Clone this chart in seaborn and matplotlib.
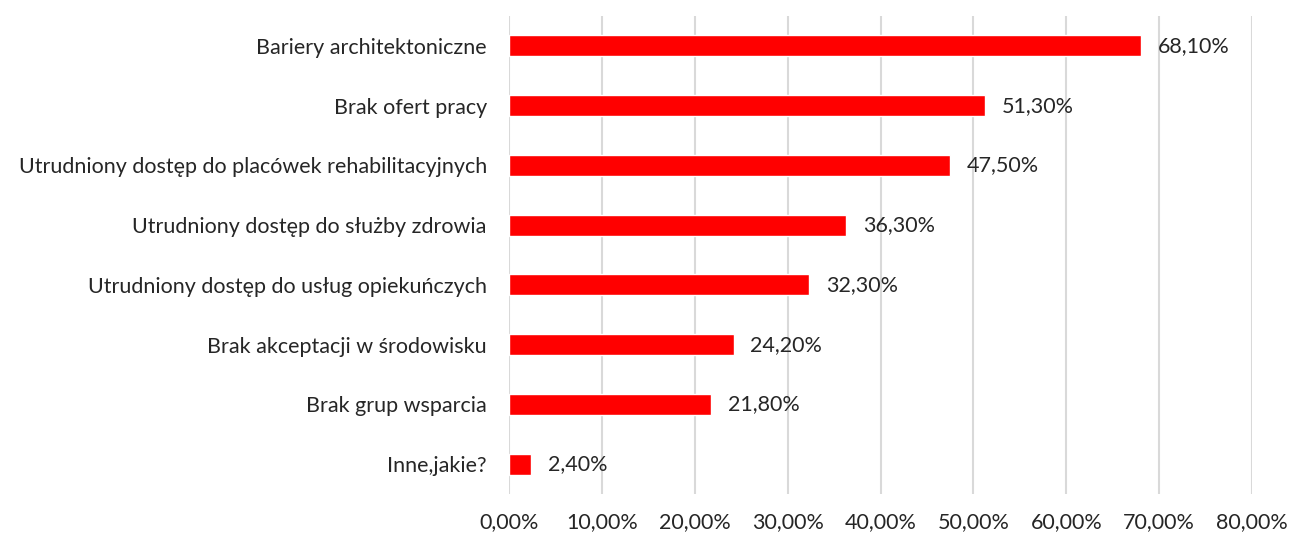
import matplotlib
matplotlib.use("Agg")
import pandas as pd
import seaborn as sns
import matplotlib.pyplot as plt
from matplotlib.ticker import FuncFormatter

# Data
categories = [
    "Bariery architektoniczne",
    "Brak ofert pracy",
    "Utrudniony dostęp do placówek rehabilitacyjnych",
    "Utrudniony dostęp do służby zdrowia",
    "Utrudniony dostęp do usług opiekuńczych",
    "Brak akceptacji w środowisku",
    "Brak grup wsparcia",
    "Inne,jakie?",
]
values = [68.1, 51.3, 47.5, 36.3, 32.3, 24.2, 21.8, 2.4]
x_ticks = [0, 10, 20, 30, 40, 50, 60, 70, 80]

df = pd.DataFrame({"kategoria": categories, "procent": values})

sns.set_style("white")
plt.rcParams["font.family"] = ["Lato", "DejaVu Sans"]

fig = plt.figure(figsize=(12.91, 5.33), dpi=100)
ax = fig.add_axes([509 / 1291, 1 - 494 / 533, (1252 - 509) / 1291, (494 - 16) / 533])

sns.barplot(data=df, x="procent", y="kategoria", color="#ff0000", saturation=1,
            width=0.35, orient="h", ax=ax, zorder=3)

ax.set_xlim(0, 80)
ax.set_ylim(7.5, -0.5)
ax.set_xticks(x_ticks)
ax.xaxis.set_major_formatter(FuncFormatter(lambda v, p: f"{v:.2f}%".replace(".", ",")))
ax.grid(axis="x", color="#d9d9d9", linewidth=1.5, zorder=0)
ax.grid(axis="y", visible=False)
for s in ax.spines.values():
    s.set_visible(False)

ax.tick_params(axis="x", length=0, pad=13, labelsize=15.5, colors="#262626")
ax.tick_params(axis="y", length=0, pad=16, labelsize=15.5, colors="#262626")
ax.set_xlabel("")
ax.set_ylabel("")

for i, v in enumerate(values):
    ax.annotate(f"{v:.2f}%".replace(".", ","), (v, i), xytext=(12, 0),
                textcoords="offset points", va="center", ha="left",
                fontsize=15.5, color="#262626")

fig.savefig("out.png", dpi=100)
